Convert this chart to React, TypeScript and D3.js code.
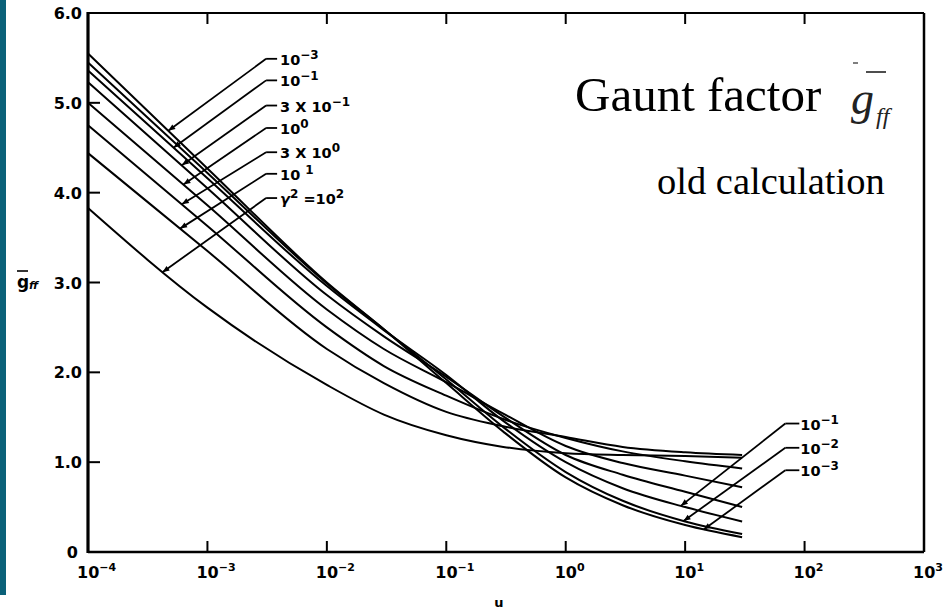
import React from "react";
import * as d3 from "d3";

// ---- data ----
const uValues = [1e-4, 1e-3, 1e-2, 3e-2, 1e-1, 3e-1, 1, 3, 10, 30];
const gGamma1em3 = [5.55, 4.27, 3.0, 2.48, 1.88, 1.34, 0.83, 0.52, 0.3, 0.165];
const gGamma1em2 = [5.45, 4.22, 2.99, 2.48, 1.92, 1.39, 0.89, 0.57, 0.34, 0.2];
const gGamma1em1 = [5.36, 4.16, 2.96, 2.47, 1.97, 1.46, 1.0, 0.71, 0.5, 0.34];
const gGamma3em1 = [5.23, 4.05, 2.86, 2.4, 1.95, 1.51, 1.08, 0.86, 0.67, 0.5];
const gGamma1 = [5.0, 3.86, 2.7, 2.26, 1.89, 1.54, 1.18, 0.99, 0.85, 0.72];
const gGamma3 = [4.75, 3.63, 2.5, 2.07, 1.74, 1.48, 1.27, 1.12, 1.01, 0.93];
const gGamma10 = [4.44, 3.35, 2.26, 1.88, 1.56, 1.4, 1.28, 1.17, 1.11, 1.08];
const gGamma100 = [3.83, 2.72, 1.86, 1.53, 1.3, 1.17, 1.1, 1.08, 1.07, 1.05];
const seriesValues = [gGamma1em3, gGamma1em2, gGamma1em1, gGamma3em1, gGamma1, gGamma3, gGamma10, gGamma100];

const xTickExponents = [-4, -3, -2, -1, 0, 1, 2, 3];
const yTickValues = [0, 1, 2, 3, 4, 5, 6];
const yTickLabels = ["0", "1.0", "2.0", "3.0", "4.0", "5.0", "6.0"];

// labels for the curves (index into seriesValues)
const leftLabelSeries = [0, 2, 3, 4, 5, 6, 7];
const leftLabelPre = ["", "", "", "", "", "", "γ"];
const leftLabelPreSup = ["", "", "", "", "", "", "2"];
const leftLabelBase = ["10", "10", "3 X 10", "10", "3 X 10", "10", " =10"];
const leftLabelSup = ["−3", "−1", "−1", "0", "0", "1", "2"];
const rightLabelSeries = [2, 1, 0];
const rightLabelSup = ["−1", "−2", "−3"];

const sgn = (v: number) => (v < 0 ? -1 : 1);

// evaluate d3.curveMonotoneX through pixel points at xq
function monotoneAt(px: number[], py: number[], xq: number): number {
  const n = px.length;
  const t: number[] = new Array(n).fill(0);
  for (let i = 1; i < n - 1; i++) {
    const h0 = px[i] - px[i - 1];
    const h1 = px[i + 1] - px[i];
    const s0 = (py[i] - py[i - 1]) / h0;
    const s1 = (py[i + 1] - py[i]) / h1;
    const p = (s0 * h1 + s1 * h0) / (h0 + h1);
    t[i] = (sgn(s0) + sgn(s1)) * Math.min(Math.abs(s0), Math.abs(s1), 0.5 * Math.abs(p)) || 0;
  }
  t[0] = (3 * (py[1] - py[0]) / (px[1] - px[0]) - t[1]) / 2;
  t[n - 1] = (3 * (py[n - 1] - py[n - 2]) / (px[n - 1] - px[n - 2]) - t[n - 2]) / 2;
  let i = 0;
  while (i < n - 2 && xq > px[i + 1]) i++;
  const dx = px[i + 1] - px[i];
  const s = (xq - px[i]) / dx;
  const y0 = py[i];
  const c1 = y0 + (dx * t[i]) / 3;
  const y1 = py[i + 1];
  const c2 = y1 - (dx * t[i + 1]) / 3;
  const m = 1 - s;
  return m * m * m * y0 + 3 * m * m * s * c1 + 3 * m * s * s * c2 + s * s * s * y1;
}

export default function App() {
  const W = 946;
  const H = 610;
  const left = 88;
  const right = 924;
  const top = 13;
  const bottom = 552;

  const x = d3.scaleLog().domain([1e-4, 1e3]).range([left, right]);
  const y = d3.scaleLinear().domain([0, 6]).range([bottom, top]);

  const line = d3
    .line<[number, number]>()
    .x((d) => x(d[0]))
    .y((d) => y(d[1]))
    .curve(d3.curveMonotoneX);

  const pxs = uValues.map((u) => x(u));
  const curveY = (si: number, u: number) =>
    monotoneAt(pxs, seriesValues[si].map((g) => y(g)), x(u));

  // annotation layout (data coordinates)
  const leftTipU = [4.7e-4, 5.2e-4, 6.1e-4, 6.3e-4, 6.1e-4, 5.9e-4, 4.2e-4];
  const leftElbowG = [5.49, 5.25, 4.97, 4.72, 4.45, 4.21, 3.94];
  const leftElbowU = 3.1e-3;
  const rightTipU = [9.2, 9.7, 14.3];
  const rightElbowG = [1.43, 1.16, 0.91];
  const rightElbowU = 69;

  const labelFont = "'DejaVu Sans', Verdana, sans-serif";
  const serif = "'Liberation Serif', 'Times New Roman', serif";

  const arrowHead = (tx: number, ty: number, fx: number, fy: number, key: string) => {
    const dx = tx - fx;
    const dy = ty - fy;
    const L = Math.hypot(dx, dy);
    const ux = dx / L;
    const uy = dy / L;
    const len = 7;
    const hw = 2.8;
    const bx = tx - ux * len;
    const by = ty - uy * len;
    const pts = [
      [tx, ty],
      [bx - uy * hw, by + ux * hw],
      [bx + uy * hw, by - ux * hw],
    ];
    return <polygon key={key} points={pts.map((p) => p.join(",")).join(" ")} fill="#000" />;
  };

  return (
    <svg
      width={W}
      height={H}
      viewBox={`0 0 ${W} ${H}`}
      style={{ position: "absolute", left: 0, top: 0, background: "#fff" }}
    >
      <rect x={0} y={0} width={W} height={H} fill="#fff" />
      <rect x={0} y={0} width={6} height={595} fill="#0b6179" />

      {/* frame */}
      <line x1={left} y1={top} x2={right} y2={top} stroke="#000" strokeWidth={2} />
      <line x1={right} y1={top} x2={right} y2={bottom} stroke="#000" strokeWidth={2.5} />
      <line x1={left} y1={bottom} x2={right} y2={bottom} stroke="#000" strokeWidth={2.5} />
      <line x1={left} y1={top - 1} x2={left} y2={bottom + 1} stroke="#000" strokeWidth={3.2} />

      {/* y ticks */}
      {yTickValues.map((v, i) => (
        <g key={"yt" + i}>
          {v > 0 && v < 6 && (
            <line x1={left} x2={left + 12} y1={y(v)} y2={y(v)} stroke="#000" strokeWidth={2} />
          )}
          <text
            x={v === 0 ? 78 : 82}
            y={y(v) + 6}
            textAnchor="end"
            fontFamily={labelFont}
            fontWeight="bold"
            fontSize={16}
            fill="#000"
          >
            {yTickLabels[i]}
          </text>
        </g>
      ))}

      {/* x ticks */}
      {xTickExponents.map((e) => {
        const xv = x(Math.pow(10, e));
        const inner = e > -4 && e < 3;
        return (
          <g key={"xt" + e}>
            {inner && (
              <line x1={xv} x2={xv} y1={bottom} y2={bottom - 11} stroke="#000" strokeWidth={2} />
            )}
            {inner && <line x1={xv} x2={xv} y1={top} y2={top + 11} stroke="#000" strokeWidth={2} />}
            <text x={xv - 11} y={578} fontFamily={labelFont} fontWeight="bold" fontSize={16} fill="#000">
              10
              <tspan dy={-7} fontSize={11}>
                {e < 0 ? "−" + Math.abs(e) : String(e)}
              </tspan>
            </text>
          </g>
        );
      })}

      {/* axis titles */}
      <text x={17} y={288} fontFamily={labelFont} fontWeight="bold" fontSize={17} fill="#000">
        g
      </text>
      <line x1={17} x2={28} y1={271} y2={271} stroke="#000" strokeWidth={1.6} />
      <text x={29} y={289} fontFamily={labelFont} fontWeight="bold" fontStyle="italic" fontSize={11} fill="#000">
        ff
      </text>
      <text x={499} y={607} textAnchor="middle" fontFamily={labelFont} fontWeight="bold" fontSize={13} fill="#000">
        u
      </text>

      {/* curves */}
      {seriesValues.map((vals, si) => (
        <path
          key={"c" + si}
          d={line(uValues.map((u, k) => [u, vals[k]] as [number, number])) || ""}
          fill="none"
          stroke="#000"
          strokeWidth={2}
        />
      ))}

      {/* left labels */}
      {leftLabelSeries.map((si, i) => {
        const tx = x(leftTipU[i]);
        const ty = curveY(si, leftTipU[i]);
        const ex = x(leftElbowU);
        const ey = y(leftElbowG[i]);
        return (
          <g key={"ll" + i}>
            <line x1={tx} y1={ty} x2={ex} y2={ey} stroke="#000" strokeWidth={1.8} />
            <line x1={ex} y1={ey} x2={ex + 11} y2={ey} stroke="#000" strokeWidth={1.8} />
            {arrowHead(tx, ty, ex, ey, "la" + i)}
            <text x={ex + 14} y={ey + 6} fontFamily={labelFont} fontWeight="bold" fontSize={14.5} fill="#000">
              {leftLabelPre[i] && <tspan fontStyle="italic">{leftLabelPre[i]}</tspan>}
              {leftLabelPreSup[i] && (
                <tspan dy={-6} fontSize={12}>
                  {leftLabelPreSup[i]}
                </tspan>
              )}
              <tspan dy={leftLabelPreSup[i] ? 6 : 0}>{leftLabelBase[i]}</tspan>
              <tspan dy={-6} dx={i === 5 ? 5 : 0} fontSize={12}>
                {leftLabelSup[i]}
              </tspan>
            </text>
          </g>
        );
      })}

      {/* right labels */}
      {rightLabelSeries.map((si, i) => {
        const tx = x(rightTipU[i]);
        const ty = curveY(si, rightTipU[i]);
        const ex = x(rightElbowU);
        const ey = y(rightElbowG[i]);
        return (
          <g key={"rl" + i}>
            <line x1={tx} y1={ty} x2={ex} y2={ey} stroke="#000" strokeWidth={1.8} />
            <line x1={ex} y1={ey} x2={ex + 14} y2={ey} stroke="#000" strokeWidth={1.8} />
            {arrowHead(tx, ty, ex, ey, "ra" + i)}
            <text x={ex + 15} y={ey + 6} fontFamily={labelFont} fontWeight="bold" fontSize={14.5} fill="#000">
              10
              <tspan dy={-6} fontSize={12}>
                {rightLabelSup[i]}
              </tspan>
            </text>
          </g>
        );
      })}

      {/* title block */}
      <text x={575} y={111} fontFamily={serif} fontSize={49} fill="#000">
        Gaunt factor
      </text>
      <line x1={853} x2={858} y1={63} y2={63} stroke="#555" strokeWidth={1.5} />
      <line x1={866} x2={886} y1={72} y2={72} stroke="#222" strokeWidth={1.6} />
      <text x={851} y={114} fontFamily={serif} fontStyle="italic" fontSize={46} fill="#222">
        g
      </text>
      <text x={876} y={124} fontFamily={serif} fontStyle="italic" fontSize={24} fill="#222">
        ff
      </text>
      <text x={657} y={194} fontFamily={serif} fontSize={38.5} fill="#000">
        old calculation
      </text>
    </svg>
  );
}
